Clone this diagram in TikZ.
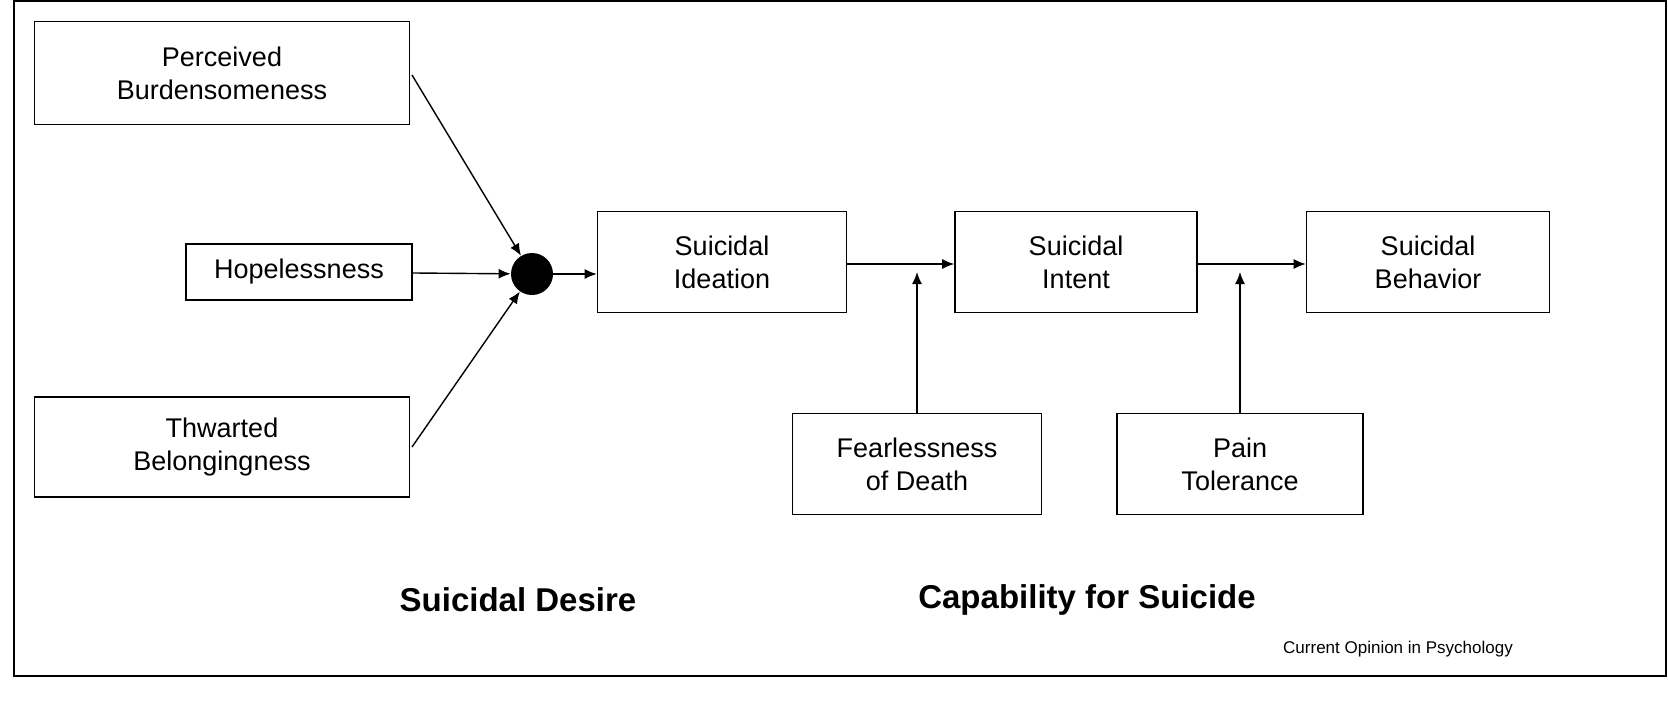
\documentclass[tikz,border=0pt]{standalone}
\usepackage{fontspec}
\setmainfont{Liberation Sans}
\usetikzlibrary{arrows.meta}
\begin{document}
\begin{tikzpicture}[x=0.5pt,y=-0.5pt,
  box/.style={draw,line width=0.8pt,align=center,inner sep=0pt,font=\fontsize{13.5}{16.5}\selectfont},
  arr/.style={-{Latex[length=6pt,width=5pt]},line width=0.7pt}]
\draw[line width=0.8pt] (14,1) -- (1666,1) -- (1666,676) -- (14,676) -- cycle;
\node[box,minimum width=187.5pt,minimum height=51.5pt] (pb) at (222,73) {Perceived\\Burdensomeness};
\node[box,minimum width=113pt,minimum height=28pt] (hp) at (299,272) {Hopelessness};
\node[box,minimum width=187.5pt,minimum height=50pt] (tb) at (222,447) {Thwarted\\Belongingness};
\node[circle,fill=black,minimum size=21pt,inner sep=0pt] (dot) at (532,274) {};
\node[box,minimum width=124.5pt,minimum height=50.5pt] (si) at (722,262) {Suicidal\\Ideation};
\node[box,minimum width=121pt,minimum height=50.5pt] (sn) at (1076,262) {Suicidal\\Intent};
\node[box,minimum width=121.5pt,minimum height=50.5pt] (sb) at (1428,262) {Suicidal\\Behavior};
\node[box,minimum width=124.5pt,minimum height=50.5pt] (fd) at (917,464) {Fearlessness\\of Death};
\node[box,minimum width=123pt,minimum height=50.5pt] (pt) at (1240,464) {Pain\\Tolerance};
\coordinate (pbo) at (412,75);
\coordinate (tbo) at (412,447);
\coordinate (y1) at (0,264);
\draw[arr] (pbo) -- (dot);
\draw[arr] (hp) -- (dot);
\draw[arr] (tbo) -- (dot);
\draw[arr] (dot) -- (si.west |- dot);
\draw[arr] (si.east |- y1) -- (sn.west |- y1);
\draw[arr] (sn.east |- y1) -- (sb.west |- y1);
\coordinate (f1) at (917,272);
\coordinate (p1) at (1240,272);
\draw[arr] (fd.north) -- (f1);
\draw[arr] (pt.north) -- (p1);
\node[font=\bfseries\fontsize{16.5}{20}\selectfont] (l1) at (518,600) {Suicidal Desire};
\node[font=\bfseries\fontsize{16.5}{20}\selectfont] (l2) at (1087,600) {Capability for Suicide};
\node[font=\fontsize{8.5}{10}\selectfont] (l3) at (1398,649) {Current Opinion in Psychology};
\pgfresetboundingbox
\path[use as bounding box] (0,0) rectangle (1668,720);
\end{tikzpicture}
\end{document}
